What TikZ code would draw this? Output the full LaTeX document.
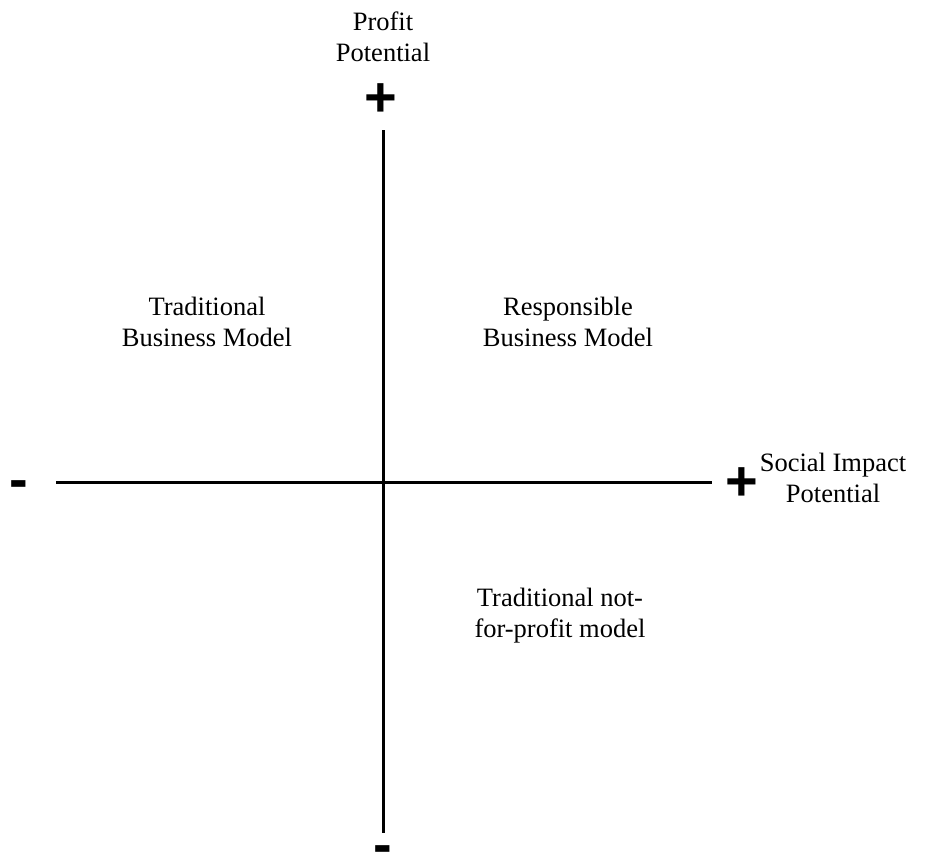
\documentclass[tikz,border=0pt]{standalone}
\usepackage{fontspec}
\setmainfont{Liberation Serif}
\newfontfamily\signfont{Liberation Sans}
\begin{document}
\begin{tikzpicture}[x=0.5pt,y=-0.5pt,
	lbl/.style={align=center,inner sep=0pt,font=\fontsize{13.25}{15.5}\selectfont},
	sign/.style={inner sep=0pt,font=\signfont\bfseries\fontsize{28}{28}\selectfont},
	axis/.style={line width=1.5pt}]
	\useasboundingbox (0,0) rectangle (927,858);
	% axes
	\coordinate (ytop) at (383,130);
	\coordinate (ybot) at (383,833);
	\coordinate (xleft) at (56,482);
	\coordinate (xright) at (712,482);
	\draw[axis] (ytop) -- (ybot);
	\draw[axis] (xleft) -- (xright);
	% ends of the axes
	\node[lbl] (profit) at (383,37) {Profit\\Potential};
	\node[sign] (yplus) at (381,100) {+};
	\node[sign] (yminus) at (383,855) {-};
	\node[sign] (xminus) at (19,490) {-};
	\node[sign] (xplus) at (742,484) {+};
	\node[lbl] (social) at (833,478) {Social Impact\\Potential};
	% quadrants
	\node[lbl] (tradbm) at (207,322) {Traditional\\Business Model};
	\node[lbl] (respbm) at (568,322) {Responsible\\Business Model};
	\node[lbl] (notprofit) at (560,616) {Traditional not-\\for-profit model};
\end{tikzpicture}
\end{document}
